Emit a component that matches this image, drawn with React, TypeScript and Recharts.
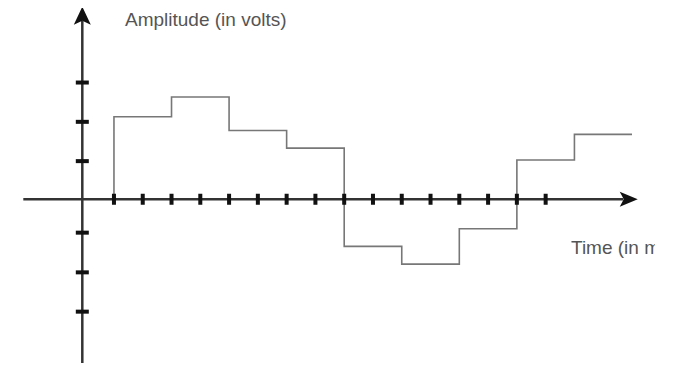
import { LineChart, Line, XAxis, YAxis, ReferenceLine, ReferenceDot } from 'recharts'

// time steps (in tick units) and amplitude levels of the staircase signal
const stepTimes = [0, 0, 2, 4, 6, 8, 10, 12, 14, 16, 18]
const stepLevels = [0, 2.1, 2.6, 1.75, 1.3, -1.2, -1.65, -0.75, 1.0, 1.65, 1.65]

// axis tick positions
const timeTicks = [0, 1, 2, 3, 4, 5, 6, 7, 8, 9, 10, 11, 12, 13, 14, 15]
const ampTicks = [2.97, 1.97, 0.97, -0.85, -1.86, -2.86]

const xDomain: [number, number] = [-3.96, 19.46]
const yDomain: [number, number] = [-4.37, 5.07]
const yAxisAt = -1.1
const xArrowTip = 18.2
const yArrowTip = 4.9

const data = stepTimes.map((t, i) => ({ t, v: stepLevels[i] }))

const XTick = ({ cx, cy }: any) => <rect x={cx - 2} y={cy - 5.5} width={4} height={11} fill="#111" />
const YTick = ({ cx, cy }: any) => <rect x={cx - 6.5} y={cy - 2} width={13} height={4} fill="#111" />
const RightArrow = ({ cx, cy }: any) => (
  <path d={`M${cx},${cy} L${cx - 18},${cy - 7.5} L${cx - 14},${cy} L${cx - 18},${cy + 7.5} Z`} fill="#111" />
)
const UpArrow = ({ cx, cy }: any) => (
  <path d={`M${cx},${cy} L${cx - 8.5},${cy + 18} L${cx},${cy + 14} L${cx + 8.5},${cy + 18} Z`} fill="#111" />
)

export default function App() {
  return (
    <div
      style={{
        position: 'relative',
        width: 674,
        height: 371,
        margin: -8,
        overflow: 'hidden',
        background: '#fff',
        fontFamily: '"Liberation Sans", Arial, sans-serif',
      }}
    >
      <LineChart width={674} height={371} data={data} margin={{ top: 0, right: 0, left: 0, bottom: 0 }}>
        <XAxis dataKey="t" type="number" domain={xDomain} allowDataOverflow hide />
        <YAxis type="number" domain={yDomain} allowDataOverflow hide />
        <ReferenceLine
          segment={[
            { x: -3.15, y: 0 },
            { x: xArrowTip - 0.5, y: 0 },
          ]}
          stroke="#333"
          strokeWidth={2.5}
        />
        <ReferenceLine
          segment={[
            { x: yAxisAt, y: -4.6 },
            { x: yAxisAt, y: yArrowTip - 0.35 },
          ]}
          ifOverflow="visible"
          stroke="#333"
          strokeWidth={2.5}
        />
        <ReferenceDot x={xArrowTip} y={0} shape={RightArrow} />
        <ReferenceDot x={yAxisAt} y={yArrowTip} shape={UpArrow} />
        {timeTicks.map((t) => (
          <ReferenceDot key={'x' + t} x={t} y={0} shape={XTick} />
        ))}
        {ampTicks.map((v) => (
          <ReferenceDot key={'y' + v} x={yAxisAt} y={v} shape={YTick} />
        ))}
        <Line
          type="stepAfter"
          dataKey="v"
          stroke="#777"
          strokeWidth={1.6}
          dot={false}
          isAnimationActive={false}
        />
      </LineChart>
      <div style={{ position: 'absolute', left: 125, top: 9, fontSize: 19, color: '#555', whiteSpace: 'nowrap' }}>
        Amplitude (in volts)
      </div>
      <div
        style={{
          position: 'absolute',
          left: 571,
          top: 237,
          width: 84,
          overflow: 'hidden',
          fontSize: 19,
          color: '#555',
          whiteSpace: 'nowrap',
        }}
      >
        Time (in ms)
      </div>
    </div>
  )
}
